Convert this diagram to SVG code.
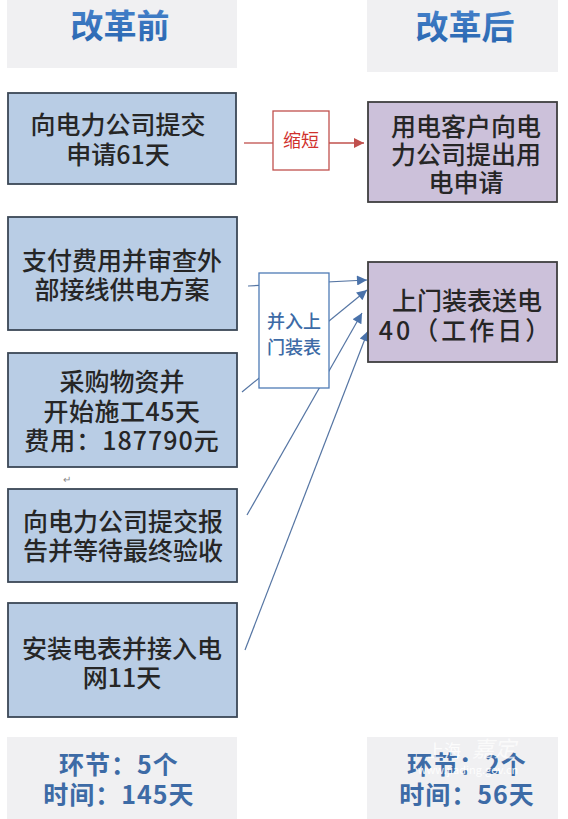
<svg xmlns="http://www.w3.org/2000/svg" width="568" height="819" viewBox="0 0 568 819">
<defs>
<linearGradient id="hg" x1="0" y1="0" x2="0" y2="1">
<stop offset="0" stop-color="#4a86cf"/>
<stop offset="1" stop-color="#2563ad"/>
</linearGradient>
<marker id="ab" viewBox="0 0 10 10" refX="10" refY="5" markerWidth="12" markerHeight="10" markerUnits="userSpaceOnUse" orient="auto">
<path d="M0,0 L10,5 L0,10 z" fill="#4a72aa"/>
</marker>
<marker id="ar" viewBox="0 0 10 10" refX="10" refY="5" markerWidth="12" markerHeight="10" markerUnits="userSpaceOnUse" orient="auto">
<path d="M0,0 L10,5 L0,10 z" fill="#c0504d"/>
</marker>
</defs>
<style>
text{font-family:"Noto Sans CJK SC","Noto Sans",sans-serif;text-anchor:middle}
.hdr{fill:#f0f0f2}
.head{font-size:33px;font-weight:700;fill:url(#hg)}
.old{fill:#b9cde5;stroke:#3b4756;stroke-width:1.8}
.new{fill:#ccc1da;stroke:#3f3f3f;stroke-width:1.8}
.bt{font-size:25px;font-weight:500;fill:#262626}
.sum{font-size:25px;font-weight:700;fill:#3d6ba6;letter-spacing:1px}
.conn{stroke:#5575a3;stroke-width:1.2;fill:none}
.red{stroke:#c0504d;stroke-width:1.3;fill:none}
.wm{fill:#ffffff}
</style>
<rect width="568" height="819" fill="#ffffff"/>

<g id="header-before">
<rect class="hdr" x="7" y="0" width="230" height="68"/>
<text class="head" x="120" y="38">改革前</text>
</g>
<g id="header-after">
<rect class="hdr" x="367" y="0" width="191" height="72"/>
<text class="head" x="465" y="39">改革后</text>
</g>

<g id="connectors">
<line class="red" x1="244" y1="143" x2="273" y2="143"/>
<line class="red" x1="329" y1="143" x2="364" y2="143" marker-end="url(#ar)"/>
<line class="conn" x1="248" y1="286" x2="367" y2="280" marker-end="url(#ab)"/>
<line class="conn" x1="242" y1="392" x2="367" y2="290" marker-end="url(#ab)"/>
<line class="conn" x1="247" y1="515" x2="362" y2="313" marker-end="url(#ab)"/>
<line class="conn" x1="245" y1="650" x2="368" y2="331" marker-end="url(#ab)"/>
</g>

<g id="shorten">
<rect x="273" y="111" width="56" height="59" fill="#ffffff" stroke="#c0504d" stroke-width="1.3"/>
<text x="301" y="147" font-size="18" fill="#d0312d">缩短</text>
</g>

<g id="merge">
<rect x="259" y="273" width="70" height="115" fill="#ffffff" stroke="#4f7bb5" stroke-width="1.3"/>
<text x="294" y="328" font-size="18" font-weight="500" fill="#3d6ba6">并入上</text>
<text x="294" y="354" font-size="18" font-weight="500" fill="#3d6ba6">门装表</text>
</g>

<g id="step1">
<rect class="old" x="8" y="93" width="228" height="91"/>
<text class="bt" x="118" y="134">向电力公司提交</text>
<text class="bt" x="118" y="164">申请61天</text>
</g>
<g id="step2">
<rect class="old" x="8" y="217" width="229" height="113"/>
<text class="bt" x="122" y="270">支付费用并审查外</text>
<text class="bt" x="122" y="299">部接线供电方案</text>
</g>
<g id="step3">
<rect class="old" x="8" y="353" width="229" height="114"/>
<text class="bt" x="122" y="391">采购物资并</text>
<text class="bt" x="122" y="421" letter-spacing="0.5">开始施工45天</text>
<text class="bt" x="122" y="450" letter-spacing="1">费用：187790元</text>
</g>
<text x="67" y="483" font-size="10" fill="#888888">↵</text>
<g id="step4">
<rect class="old" x="8" y="489" width="229" height="93"/>
<text class="bt" x="123" y="531">向电力公司提交报</text>
<text class="bt" x="123" y="560">告并等待最终验收</text>
</g>
<g id="step5">
<rect class="old" x="8" y="603" width="229" height="114"/>
<text class="bt" x="122" y="658">安装电表并接入电</text>
<text class="bt" x="122" y="687">网11天</text>
</g>

<g id="new1">
<rect class="new" x="368" y="102" width="189" height="100"/>
<text class="bt" x="466" y="136">用电客户向电</text>
<text class="bt" x="466" y="164">力公司提出用</text>
<text class="bt" x="466" y="192">电申请</text>
</g>
<g id="new2">
<rect class="new" x="368" y="262" width="189" height="100"/>
<text class="bt" x="467" y="310">上门装表送电</text>
<text class="bt" x="466" y="340" letter-spacing="3">40（工作日）</text>
</g>

<g id="summary-before">
<rect class="hdr" x="7" y="737" width="230" height="82"/>
<text class="sum" x="119" y="774">环节：5个</text>
<text class="sum" x="119" y="804">时间：145天</text>
</g>
<g id="summary-after">
<rect class="hdr" x="367" y="737" width="191" height="82"/>
<text class="sum" x="467" y="774">环节：2个</text>
<text class="sum" x="467" y="804">时间：56天</text>
<text class="wm" x="444" y="757" font-size="17" fill-opacity="0.85">上海</text>
<text class="wm" x="494" y="757" font-size="22" fill-opacity="0.7" font-style="italic">嘉定</text>
<text class="wm" x="468" y="774" font-size="11" fill-opacity="0.9">www.jiading.gov.cn</text>
</g>
</svg>
